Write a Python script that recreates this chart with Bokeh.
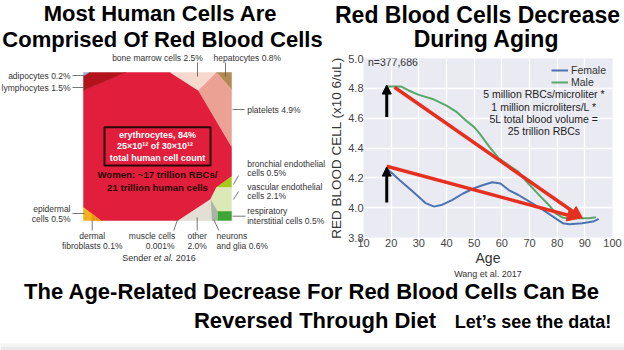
from bokeh.plotting import figure
from bokeh.layouts import row, column
from bokeh.models import Range1d, FixedTicker, PrintfTickFormatter, Arrow, NormalHead, Title
from bokeh.core.properties import value
from bokeh.embed import file_html
from bokeh.resources import INLINE

FONT = "Liberation Sans"

# ---------------- Data: RBC count vs age (Wang et al. 2017) ----------------
female_age = [18, 23, 28, 32.5, 35.5, 38.5, 42, 46, 50, 53, 56.5, 59.5, 62.5, 66, 70, 75, 78.5, 82, 84.5, 89, 93, 95]
female_rbc = [4.27, 4.185, 4.105, 4.03, 4.007, 4.02, 4.05, 4.095, 4.13, 4.15, 4.17, 4.162, 4.118, 4.085, 4.04, 3.984, 3.94, 3.896, 3.889, 3.895, 3.907, 3.925]
male_age = [18, 23.5, 26.5, 30, 35, 40, 43.5, 47, 50, 52, 55.5, 59, 62.5, 66, 68.5, 73.5, 77, 79.5, 82, 85.5, 91.5, 94]
male_rbc = [4.813, 4.813, 4.784, 4.756, 4.729, 4.684, 4.644, 4.584, 4.54, 4.496, 4.407, 4.329, 4.284, 4.24, 4.184, 4.084, 4.018, 3.962, 3.933, 3.929, 3.929, 3.935]
age_ticks = [10, 20, 30, 40, 50, 60, 70, 80, 90, 100]
rbc_ticks = [3.8, 4.0, 4.2, 4.4, 4.6, 4.8, 5.0]
sample_note = "n=377,686"
calc_lines = ["5 million RBCs/microliter *", "1 million microliters/L *",
              "5L total blood volume =", "25 trillion RBCs"]

# trend arrows (age, rbc) start -> end
trend_start_age = [21.2, 18.4]
trend_start_rbc = [4.807, 4.278]
trend_end_age = [89.2, 88.0]
trend_end_rbc = [3.929, 3.929]
# baseline arrows pointing up to the age-18 values
base_age = [18.4, 18.4]
base_from_rbc = [4.607, 4.034]
base_to_rbc = [4.822, 4.272]

# ---------------- Data: human cell composition (Sender et al. 2016) ----------------
cell_types = ["erythrocytes", "adipocytes", "lymphocytes", "bone marrow cells", "hepatocytes",
              "platelets", "bronchial endothelial cells", "vascular endothelial cells",
              "respiratory interstitial cells", "neurons and glia", "other",
              "epidermal cells", "dermal fibroblasts", "muscle cells"]
cell_pct = ["84", "0.2", "1.5", "2.5", "0.8", "4.9", "0.5", "2.1", "0.5", "0.6", "2.0", "0.5", "0.1", "0.001"]
cell_colors = ["#E11E3C", "#8DB6DA", "#B3141C", "#F6D8CE", "#B08A52", "#EBA295", "#A8C81E",
               "#DCE8B6", "#3FA535", "#A9B5A5", "#E4DFD4", "#F2B11E", "#E8961C", "#D9D4C8"]
line_break_words = [0, 0, 0, 0, 0, 0, 2, 2, 1, 1, 1, 1, 1, 2]

# Voronoi treemap cell outlines (panel pixel layout)
cell_shapes = {
    "erythrocytes": [(83, 90), (125, 72), (170, 72), (198, 90), (231, 146), (231, 176), (216, 187),
                     (210, 199), (178, 220), (100, 220), (83, 207)],
    "adipocytes": [(83, 72), (89, 72), (83, 76)],
    "lymphocytes": [(83, 76), (89, 72), (125, 72), (83, 90)],
    "bone marrow cells": [(170, 72), (216, 72), (198, 90)],
    "hepatocytes": [(216, 72), (231, 72), (231, 89)],
    "platelets": [(198, 90), (216, 72), (231, 89), (231, 146)],
    "bronchial endothelial cells": [(231, 176), (231, 187), (216, 187)],
    "vascular endothelial cells": [(216, 187), (231, 187), (231, 211), (217, 211), (210, 199)],
    "respiratory interstitial cells": [(217, 211), (231, 211), (231, 220), (217, 220)],
    "neurons and glia": [(210, 199), (217, 211), (217, 220), (211, 220)],
    "other": [(178, 220), (210, 199), (211, 220)],
    "epidermal cells": [(83, 207), (100, 220), (83, 220)],
    "dermal fibroblasts": [(92, 214), (100, 220), (91, 220)],
}
# label anchors: (x, y of first line, align, line spacing)
label_anchor = {
    "adipocytes": (70, 75, "right", 0), "lymphocytes": (70, 87.3, "right", 0),
    "bone marrow cells": (157, 57, "center", 0), "hepatocytes": (213, 57, "left", 0),
    "platelets": (246.7, 109.3, "left", 0), "bronchial endothelial cells": (246.7, 163.3, "left", 8.7),
    "vascular endothelial cells": (246.7, 186, "left", 9), "respiratory interstitial cells": (246.7, 210.7, "left", 9.3),
    "epidermal cells": (70, 208.3, "right", 10), "dermal fibroblasts": (91.7, 235, "center", 10.7),
    "muscle cells": (151.5, 235, "center", 10.7), "other": (196.7, 235, "center", 10.7),
    "neurons and glia": (216, 235, "left", 10.7),
}
leaders = [((197, 62), (197, 76)), ((225, 62), (225, 76)), ((72, 75), (84, 75)), ((72, 87), (84, 87)),
           ((232, 109), (244, 109)), ((238, 175), (233, 184)), ((238, 191), (233, 199)),
           ((232, 215.7), (245, 215.7)), ((72, 213), (84, 213)), ((91.7, 220), (91.7, 230)),
           ((176.7, 220), (173.3, 230)), ((196.7, 217), (196.7, 230)), ((213.3, 219), (218.3, 230))]

RED = "#E6301F"
TXT = "#333333"
TOP_H = 280
RT_H = 52


def blank(w, h, xr, yr):
    f = figure(width=w, height=h, x_range=Range1d(*xr), y_range=Range1d(*yr),
               output_backend="svg", toolbar_location=None, tools="",
               x_axis_location=None, y_axis_location=None, min_border=0,
               outline_line_color=None, background_fill_color="white", border_fill_color="white")
    f.grid.visible = False
    return f


# ---------------- Left panel ----------------
left = blank(326, TOP_H, (0, 326), (TOP_H, 0))
left.text(x=[160, 162], y=[13, 38.5], text=["Most Human Cells Are", "Comprised Of Red Blood Cells"],
          text_font=value(FONT), text_font_style="bold", text_font_size="22px",
          text_align="center", text_baseline="middle", text_color="black")

pxs, pys, pcols = [], [], []
for name, col in zip(cell_types, cell_colors):
    if name in cell_shapes:
        pts = cell_shapes[name]
        pxs.append([p[0] for p in pts])
        pys.append([p[1] for p in pts])
        pcols.append(col)
left.patches(xs=pxs, ys=pys, fill_color=pcols, line_color=pcols, line_width=0.5)

# box with erythrocyte info
left.quad(left=[104], right=[210], top=[126.7], bottom=[165], fill_color=None,
          line_color="#2A0808", line_width=2)
left.text(x=[157, 157, 157], y=[134, 145.7, 157.7],
          text=["erythrocytes, %s%%" % cell_pct[0], "25\u00d710\u00b9\u00b2  of  30\u00d710\u00b9\u00b2",
                "total human cell count"],
          text_font=value(FONT), text_font_style="bold", text_font_size="9px",
          text_align="center", text_baseline="middle", text_color="white")
left.text(x=[157, 157], y=[174, 187.3],
          text=["Women: ~17 trillion RBCs/", "21 trillion human cells"],
          text_font=value(FONT), text_font_style="bold", text_font_size="9.6px",
          text_align="center", text_baseline="middle", text_color="#2A0606")

# outer labels
for name, pct, brk in zip(cell_types, cell_pct, line_break_words):
    if name not in label_anchor:
        continue
    x, y, al, dy = label_anchor[name]
    words = (name + " " + pct + "%").split(" ")
    lines = [" ".join(words)] if brk == 0 else [" ".join(words[:brk]), " ".join(words[brk:])]
    xs_l = [x] * len(lines)
    aligns = [al] * len(lines)
    if name == "muscle cells":
        xs_l = [x, 174]
        aligns = ["center", "right"]
    for i, ln in enumerate(lines):
        left.text(x=[xs_l[i]], y=[y + i * dy], text=[ln], text_font=value(FONT), text_font_size="8.5px",
                  text_align=aligns[i], text_baseline="middle", text_color=TXT)

left.segment(x0=[a[0][0] for a in leaders], y0=[a[0][1] for a in leaders],
             x1=[a[1][0] for a in leaders], y1=[a[1][1] for a in leaders],
             line_color="#555555", line_width=0.8)

left.text(x=[121.7], y=[257], text=["Sender"], text_font=value(FONT), text_font_size="9px",
          text_align="left", text_baseline="middle", text_color=TXT)
left.text(x=[153.2], y=[257], text=["et al."], text_font=value(FONT), text_font_size="9px",
          text_font_style="italic", text_align="left", text_baseline="middle", text_color=TXT)
left.text(x=[175.2], y=[257], text=["2016"], text_font=value(FONT), text_font_size="9px",
          text_align="left", text_baseline="middle", text_color=TXT)

# ---------------- Right title ----------------
rtitle = blank(298, RT_H, (326, 624), (RT_H, 0))
rtitle.text(x=[477, 486], y=[14.5, 38], text=["Red Blood Cells Decrease", "During Aging"],
            text_font=value(FONT), text_font_style="bold", text_font_size="23px",
            text_align="center", text_baseline="middle", text_color="black")

# ---------------- Line chart ----------------
chart = figure(width=298, height=TOP_H - RT_H, x_range=Range1d(10, 100), y_range=Range1d(3.8, 5.0),
               output_backend="svg", toolbar_location=None, tools="",
               min_border_left=36, min_border_right=12, min_border_top=6, min_border_bottom=42,
               background_fill_color="#EAEAF2", border_fill_color="white", outline_line_color=None)
chart.xaxis.ticker = FixedTicker(ticks=age_ticks)
chart.yaxis.ticker = FixedTicker(ticks=rbc_ticks)
chart.yaxis.formatter = PrintfTickFormatter(format="%.1f")
for ax in chart.axis:
    ax.axis_line_color = None
    ax.major_tick_line_color = None
    ax.minor_tick_line_color = None
    ax.major_tick_out = 0
    ax.major_tick_in = 0
    ax.minor_tick_out = 0
    ax.minor_tick_in = 0
    ax.major_label_text_font = FONT
    ax.major_label_text_font_size = "11px"
    ax.major_label_text_color = "#444444"
    ax.axis_label_text_font = FONT
    ax.axis_label_text_font_style = "normal"
    ax.axis_label_text_color = TXT
chart.xaxis.major_label_standoff = 1
chart.yaxis.major_label_standoff = 0
chart.xaxis.axis_label = "Age"
chart.xaxis.axis_label_text_font_size = "14px"
chart.xaxis.axis_label_standoff = 0
chart.yaxis.axis_label = "RED BLOOD CELL (x10 6/uL)"
chart.yaxis.axis_label_text_font_size = "13.5px"
chart.yaxis.axis_label_standoff = 1
chart.grid.grid_line_color = "white"
chart.grid.grid_line_width = 1.3

chart.line(female_age, female_rbc, line_color="#4C72B0", line_width=2, legend_label="Female")
chart.line(male_age, male_rbc, line_color="#55A868", line_width=2, legend_label="Male")

chart.text(x=[11.6], y=[4.978], text=[sample_note], text_font=value(FONT), text_font_size="10.5px",
           text_align="left", text_baseline="middle", text_color=TXT)
chart.text(x=[75.2] * 4, y=[4.763, 4.674, 4.596, 4.511], text=calc_lines, text_font=value(FONT),
           text_font_size="10.5px", text_align="center", text_baseline="middle", text_color="#222222")

for xs, ys, xe, ye in zip(trend_start_age, trend_start_rbc, trend_end_age, trend_end_rbc):
    chart.add_layout(Arrow(end=NormalHead(size=12, fill_color=RED, line_color=RED, line_width=1),
                           x_start=xs, y_start=ys, x_end=xe, y_end=ye,
                           line_color=RED, line_width=3.5))
for xa, y0, y1 in zip(base_age, base_from_rbc, base_to_rbc):
    chart.add_layout(Arrow(end=NormalHead(size=9, fill_color="black", line_color="black", line_width=1),
                           x_start=xa, y_start=y0, x_end=xa, y_end=y1,
                           line_color="black", line_width=3))

lg = chart.legend[0]
lg.location = "top_right"
lg.background_fill_alpha = 0
lg.border_line_alpha = 0
lg.label_text_font = FONT
lg.label_text_font_size = "10.5px"
lg.label_text_color = TXT
lg.glyph_width = 17
lg.glyph_height = 10
lg.label_height = 10
lg.label_standoff = 3
lg.spacing = 0
lg.margin = 3
lg.padding = 3

chart.add_layout(Title(text="Wang et al. 2017", align="center", vertical_align="top", text_font=FONT,
                       text_font_size="9px", text_font_style="normal", text_color=TXT,
                       standoff=0), "below")

# ---------------- Bottom text ----------------
bottom = blank(624, 350 - TOP_H, (0, 624), (350, TOP_H))
bottom.quad(left=[0], right=[624], top=[343], bottom=[346.5], fill_color="#F4F4F4", line_color=None)
bottom.quad(left=[0], right=[624], top=[346.5], bottom=[350], fill_color="#E8E8E8", line_color=None)
bottom.text(x=[311.5, 314.5], y=[290.5, 320],
            text=["The Age-Related Decrease For Red Blood Cells Can Be", "Reversed Through Diet"],
            text_font=value(FONT), text_font_style="bold", text_font_size="22px",
            text_align="center", text_baseline="middle", text_color="black")
bottom.text(x=[532.5], y=[321], text=["Let\u2019s see the data!"], text_font=value(FONT),
            text_font_style="bold", text_font_size="18px", text_align="center",
            text_baseline="middle", text_color="black")

layout = column(row(column(left), column(column(rtitle), column(chart))), bottom)
open("out.html", "w").write(file_html(layout, INLINE))
